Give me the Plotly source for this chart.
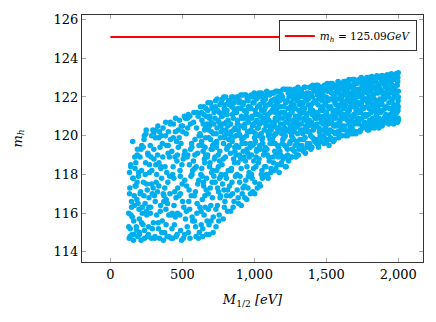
import plotly.graph_objects as go

# Scan points: gaugino mass M_1/2 and Higgs mass m_h
m_half = [
    128, 131, 135, 138, 142, 147, 151, 155, 158, 162, 166, 170, 133, 144, 160, 172,
    177, 180, 184, 188, 191, 195, 199, 203, 206, 210, 214, 218, 222, 186, 201, 216,
    227, 230, 234, 238, 241, 245, 249, 253, 256, 260, 264, 268, 272, 236, 251, 266,
    277, 280, 284, 288, 291, 295, 299, 303, 306, 310, 314, 318, 322, 286, 301, 316,
    327, 330, 334, 338, 341, 345, 349, 353, 356, 360, 364, 368, 372, 336, 351, 366,
    377, 380, 384, 388, 391, 395, 399, 403, 406, 410, 414, 418, 422, 386, 401, 416,
    427, 430, 434, 438, 441, 445, 449, 453, 456, 460, 464, 468, 472, 436, 451, 466,
    477, 480, 484, 488, 491, 495, 499, 503, 506, 510, 514, 518, 522, 486, 501, 516,
    527, 530, 534, 538, 541, 545, 549, 553, 556, 560, 564, 568, 572, 536, 551, 566,
    577, 580, 584, 588, 591, 595, 599, 603, 606, 610, 614, 618, 622, 586, 601, 616,
    626, 628, 631, 634, 636, 639, 641, 644, 646, 649, 651, 654, 656, 659, 661, 664, 666, 669, 671, 673, 638, 658,
    676, 678, 681, 684, 686, 689, 691, 694, 696, 699, 701, 704, 706, 709, 711, 714, 716, 719, 721, 723, 688, 708,
    726, 728, 731, 734, 736, 739, 741, 744, 746, 749, 751, 754, 756, 759, 761, 764, 766, 769, 771, 773, 738, 758,
    776, 778, 781, 784, 786, 789, 791, 794, 796, 799, 801, 804, 806, 809, 811, 814, 816, 819, 821, 823, 788, 808,
    826, 828, 831, 834, 836, 839, 841, 844, 846, 849, 851, 854, 856, 859, 861, 864, 866, 869, 871, 873, 838, 858,
    876, 878, 881, 884, 886, 889, 891, 894, 896, 899, 901, 904, 906, 909, 911, 914, 916, 919, 921, 923, 888, 908,
    926, 928, 931, 934, 936, 939, 941, 944, 946, 949, 951, 954, 956, 959, 961, 964, 966, 969, 971, 973, 938, 958,
    976, 978, 981, 984, 986, 989, 991, 994, 996, 999, 1001, 1004, 1006, 1009, 1011, 1014, 1016, 1019, 1021, 1023, 988, 1008,
    1026, 1028, 1031, 1034, 1036, 1039, 1041, 1044, 1046, 1049, 1051, 1054, 1056, 1059, 1061, 1064, 1066, 1069, 1071, 1073, 1038, 1058,
    1076, 1078, 1081, 1084, 1086, 1089, 1091, 1094, 1096, 1099, 1101, 1104, 1106, 1109, 1111, 1114, 1116, 1119, 1121, 1123, 1088, 1108,
    1126, 1128, 1131, 1134, 1136, 1139, 1141, 1144, 1146, 1149, 1151, 1154, 1156, 1159, 1161, 1164, 1166, 1169, 1171, 1173, 1138, 1158,
    1176, 1178, 1181, 1184, 1186, 1189, 1191, 1194, 1196, 1199, 1201, 1204, 1206, 1209, 1211, 1214, 1216, 1219, 1221, 1223, 1188, 1208,
    1226, 1228, 1231, 1234, 1236, 1239, 1241, 1244, 1246, 1249, 1251, 1254, 1256, 1259, 1261, 1264, 1266, 1269, 1271, 1273, 1238, 1258,
    1276, 1278, 1281, 1284, 1286, 1289, 1291, 1294, 1296, 1299, 1301, 1304, 1306, 1309, 1311, 1314, 1316, 1319, 1321, 1323, 1288, 1308,
    1326, 1329, 1332, 1334, 1337, 1340, 1343, 1346, 1349, 1352, 1355, 1357, 1360, 1363, 1366, 1369, 1371, 1373,
    1376, 1379, 1382, 1384, 1387, 1390, 1393, 1396, 1399, 1402, 1405, 1407, 1410, 1413, 1416, 1419, 1421, 1423,
    1426, 1429, 1432, 1434, 1437, 1440, 1443, 1446, 1449, 1452, 1455, 1457, 1460, 1463, 1466, 1469, 1471, 1473,
    1476, 1479, 1482, 1484, 1487, 1490, 1493, 1496, 1499, 1502, 1505, 1507, 1510, 1513, 1516, 1519, 1521, 1523,
    1526, 1529, 1532, 1534, 1537, 1540, 1543, 1546, 1549, 1552, 1555, 1557, 1560, 1563, 1566, 1569, 1571, 1573,
    1576, 1579, 1582, 1584, 1587, 1590, 1593, 1596, 1599, 1602, 1605, 1607, 1610, 1613, 1616, 1619, 1621, 1623,
    1626, 1629, 1632, 1634, 1637, 1640, 1643, 1646, 1649, 1652, 1655, 1657, 1660, 1663, 1666, 1669, 1671, 1673,
    1676, 1679, 1682, 1684, 1687, 1690, 1693, 1696, 1699, 1702, 1705, 1707, 1710, 1713, 1716, 1719, 1721, 1723,
    1726, 1729, 1732, 1734, 1737, 1740, 1743, 1746, 1749, 1752, 1755, 1757, 1760, 1763, 1766, 1769, 1771, 1773,
    1776, 1779, 1782, 1784, 1787, 1790, 1793, 1796, 1799, 1802, 1805, 1807, 1810, 1813, 1816, 1819, 1821, 1823,
    1826, 1829, 1832, 1834, 1837, 1840, 1843, 1846, 1849, 1852, 1855, 1857, 1860, 1863, 1866, 1869, 1871, 1873,
    1876, 1879, 1882, 1884, 1887, 1890, 1893, 1896, 1899, 1902, 1905, 1907, 1910, 1913, 1916, 1919, 1921, 1923,
    1926, 1929, 1932, 1934, 1937, 1940, 1943, 1946, 1949, 1952, 1955, 1957, 1960, 1963, 1966, 1969, 1971, 1973,
    1976, 1979, 1982, 1985, 1988, 1990, 1993, 1995, 1997, 1999, 2000, 2000, 2000, 2000,
    # second pass
    128, 133, 137, 142, 147, 152, 157, 162, 167, 172,
    178, 183, 187, 192, 197, 202, 207, 212, 217, 222,
    228, 233, 237, 242, 247, 252, 257, 262, 267, 272,
    278, 283, 287, 292, 297, 302, 307, 312, 317, 322,
    328, 333, 337, 342, 347, 352, 357, 362, 367, 372,
    378, 383, 387, 392, 397, 402, 407, 412, 417, 422,
    428, 433, 437, 442, 447, 452, 457, 462, 467, 472,
    478, 483, 487, 492, 497, 502, 507, 512, 517, 522,
    528, 533, 537, 542, 547, 552, 557, 562, 567, 572,
    578, 583, 587, 592, 597, 602, 607, 612, 617, 622,
    627, 630, 633, 635, 638, 642, 645, 648, 650, 653, 657, 660, 662, 665, 668, 672,
    677, 680, 683, 685, 688, 692, 695, 698, 700, 703, 707, 710, 712, 715, 718, 722,
    727, 730, 733, 735, 738, 742, 745, 748, 750, 753, 757, 760, 762, 765, 768, 772,
    777, 780, 783, 785, 788, 792, 795, 798, 800, 803, 807, 810, 812, 815, 818, 822,
    827, 830, 833, 835, 838, 842, 845, 848, 850, 853, 857, 860, 862, 865, 868, 872,
    877, 880, 883, 885, 888, 892, 895, 898, 900, 903, 907, 910, 912, 915, 918, 922,
    927, 930, 933, 935, 938, 942, 945, 948, 950, 953, 957, 960, 962, 965, 968, 972,
    977, 980, 983, 985, 988, 992, 995, 998, 1000, 1003, 1007, 1010, 1012, 1015, 1018, 1022,
    1027, 1030, 1033, 1035, 1038, 1042, 1045, 1048, 1050, 1053, 1057, 1060, 1062, 1065, 1068, 1072,
    1077, 1080, 1083, 1085, 1088, 1092, 1095, 1098, 1100, 1103, 1107, 1110, 1112, 1115, 1118, 1122,
    1127, 1130, 1133, 1135, 1138, 1142, 1145, 1148, 1150, 1153, 1157, 1160, 1162, 1165, 1168, 1172,
    1177, 1180, 1183, 1185, 1188, 1192, 1195, 1198, 1200, 1203, 1207, 1210, 1212, 1215, 1218, 1222,
    1227, 1230, 1233, 1235, 1238, 1242, 1245, 1248, 1250, 1253, 1257, 1260, 1262, 1265, 1268, 1272,
    1277, 1280, 1283, 1285, 1288, 1292, 1295, 1298, 1300, 1303, 1307, 1310, 1312, 1315, 1318, 1322,
    1327, 1330, 1333, 1335, 1338, 1342, 1345, 1348, 1350, 1353, 1357, 1360, 1362, 1365, 1368, 1372,
    1377, 1380, 1383, 1385, 1388, 1392, 1395, 1398, 1400, 1403, 1407, 1410, 1412, 1415, 1418, 1422,
    1427, 1430, 1433, 1435, 1438, 1442, 1445, 1448, 1450, 1453, 1457, 1460, 1462, 1465, 1468, 1472,
    1477, 1480, 1483, 1485, 1488, 1492, 1495, 1498, 1500, 1503, 1507, 1510, 1512, 1515, 1518, 1522,
    1527, 1530, 1533, 1535, 1538, 1542, 1545, 1548, 1550, 1553, 1557, 1560, 1562, 1565, 1568, 1572,
    1577, 1580, 1583, 1585, 1588, 1592, 1595, 1598, 1600, 1603, 1607, 1610, 1612, 1615, 1618, 1622,
    1627, 1630, 1633, 1635, 1638, 1642, 1645, 1648, 1650, 1653, 1657, 1660, 1662, 1665, 1668, 1672,
    1677, 1680, 1683, 1685, 1688, 1692, 1695, 1698, 1700, 1703, 1707, 1710, 1712, 1715, 1718, 1722,
    1727, 1730, 1733, 1735, 1738, 1742, 1745, 1748, 1750, 1753, 1757, 1760, 1762, 1765, 1768, 1772,
    1777, 1780, 1783, 1785, 1788, 1792, 1795, 1798, 1800, 1803, 1807, 1810, 1812, 1815, 1818, 1822,
    1827, 1830, 1833, 1835, 1838, 1842, 1845, 1848, 1850, 1853, 1857, 1860, 1862, 1865, 1868, 1872,
    1877, 1880, 1883, 1885, 1888, 1892, 1895, 1898, 1900, 1903, 1907, 1910, 1912, 1915, 1918, 1922,
    1927, 1930, 1933, 1935, 1938, 1942, 1945, 1948, 1950, 1953, 1957, 1960, 1962, 1965, 1968, 1972,
    1977, 1981, 1984, 1987, 1991, 1994, 1996, 1998, 2000, 2000,
]

m_h = [
    116.0, 114.7, 117.3, 115.2, 118.4, 116.6, 114.9, 119.7, 117.8, 115.6, 116.9, 118.9, 118.1, 115.9, 114.6, 117.4,
    118.6, 115.3, 116.7, 119.3, 114.8, 117.9, 116.2, 115.0, 118.9, 117.1, 114.6, 119.5, 116.0, 117.6, 115.7, 118.2,
    115.4, 117.6, 119.8, 114.7, 116.5, 118.6, 120.3, 115.9, 117.2, 119.1, 114.9, 116.8, 118.1, 120.0, 116.1, 115.3,
    119.5, 116.3, 114.7, 118.2, 117.0, 120.3, 115.5, 118.8, 116.9, 114.8, 119.9, 117.6, 115.9, 117.5, 120.1, 118.5,
    117.1, 120.5, 115.2, 118.6, 114.7, 119.4, 116.4, 120.0, 117.8, 115.6, 118.9, 114.6, 116.9, 119.9, 118.3, 120.4,
    115.0, 118.4, 120.7, 116.7, 119.5, 114.8, 117.6, 120.2, 115.9, 118.9, 117.0, 119.8, 114.7, 116.2, 119.1, 120.6,
    119.2, 116.0, 114.7, 120.6, 117.8, 115.4, 118.9, 120.9, 116.8, 119.7, 114.9, 117.3, 120.3, 118.4, 115.8, 119.0,
    116.9, 120.8, 118.2, 115.1, 119.6, 114.6, 117.5, 120.2, 118.8, 116.3, 121.0, 119.2, 115.7, 117.9, 120.5, 114.9,
    120.1, 117.4, 115.3, 119.0, 121.1, 116.6, 118.5, 114.7, 120.6, 117.9, 119.6, 115.8, 118.2, 120.9, 116.2, 119.4,
    118.7, 121.2, 115.6, 119.8, 117.1, 114.8, 120.4, 116.5, 119.1, 121.0, 117.7, 115.0, 120.1, 118.3, 116.0, 119.5,
    121.5, 118.0, 115.4, 119.7, 120.8, 116.7, 114.8, 119.2, 117.6, 121.1, 115.9, 120.3, 118.6, 116.3, 119.9, 121.4, 117.2, 114.9, 120.6, 118.9, 117.9, 119.4,
    119.0, 121.7, 116.2, 120.3, 114.9, 118.4, 121.0, 117.3, 119.8, 115.6, 120.7, 118.1, 121.5, 116.8, 119.5, 115.0, 120.1, 117.9, 121.2, 118.8, 120.5, 119.3,
    120.9, 117.6, 121.8, 115.3, 119.4, 118.2, 120.4, 116.4, 121.3, 119.0, 117.1, 120.7, 115.9, 118.7, 121.6, 119.9, 116.9, 120.2, 118.0, 121.0, 119.6, 117.8,
    118.5, 121.9, 120.3, 115.7, 119.6, 117.2, 121.4, 120.0, 116.6, 118.9, 122.0, 120.7, 117.8, 119.3, 121.1, 116.1, 120.5, 118.2, 121.7, 119.8, 121.2, 120.1,
    120.6, 117.4, 121.8, 119.1, 116.1, 120.2, 118.3, 121.5, 119.7, 117.0, 122.0, 120.9, 118.8, 116.6, 121.2, 119.4, 120.4, 117.9, 121.9, 119.0, 120.0, 121.4,
    119.5, 122.0, 117.2, 120.8, 118.6, 121.4, 116.5, 120.1, 119.0, 121.8, 117.9, 120.5, 122.1, 118.3, 121.0, 119.8, 117.0, 120.9, 121.6, 119.2, 120.3, 118.8,
    121.7, 118.9, 120.4, 116.8, 122.1, 119.6, 117.7, 121.2, 120.0, 118.4, 121.9, 119.1, 117.3, 120.7, 121.4, 118.1, 122.0, 120.2, 119.4, 117.0, 120.9, 121.5,
    120.3, 122.1, 118.0, 121.0, 119.5, 117.1, 121.7, 120.6, 118.7, 122.2, 119.9, 117.6, 121.3, 120.1, 118.4, 121.9, 119.2, 120.8, 117.3, 121.5, 120.5, 119.7,
    121.1, 118.6, 122.2, 120.0, 117.5, 121.6, 119.3, 120.7, 122.1, 118.0, 121.3, 119.8, 117.8, 120.9, 122.0, 119.0, 121.7, 120.3, 118.4, 121.4, 120.6, 119.6,
    119.4, 121.9, 120.5, 118.0, 122.3, 121.0, 119.0, 120.2, 117.8, 121.6, 120.8, 118.7, 122.1, 119.8, 121.2, 120.4, 118.3, 121.8, 119.6, 122.2, 120.9, 120.1,
    120.7, 122.2, 118.9, 121.5, 120.0, 118.2, 121.9, 119.6, 120.9, 122.3, 119.1, 121.3, 120.4, 118.5, 121.7, 120.2, 122.0, 119.4, 121.1, 118.1, 120.6, 121.4,
    121.8, 119.2, 120.6, 122.3, 118.5, 121.2, 120.1, 119.6, 122.0, 120.9, 118.8, 121.5, 119.9, 122.4, 120.4, 121.0, 118.4, 121.7, 120.7, 119.4, 122.1, 120.2,
    120.3, 122.4, 119.0, 121.4, 120.8, 118.7, 122.0, 121.1, 119.6, 120.5, 122.3, 118.9, 121.7, 120.0, 121.3, 119.3, 122.2, 120.6, 121.9, 119.8, 120.9, 121.5,
    121.6, 119.2, 122.4, 120.4, 121.0, 118.9, 122.1, 120.8, 119.7, 121.9, 120.1, 122.5, 119.0, 121.3, 120.6, 122.0, 119.5, 121.1, 120.3, 121.7, 122.3, 120.9,
    120.6, 122.4, 119.3, 121.5, 120.1, 122.0, 119.8, 121.2, 120.9, 122.5, 119.1, 121.8, 120.4, 121.0, 122.2, 119.6, 120.7, 121.6,
    121.9, 119.5, 120.8, 122.5, 120.2, 121.4, 119.3, 122.1, 120.6, 121.1, 122.6, 119.9, 121.7, 120.4, 122.3, 121.0, 119.7, 120.9,
    120.5, 122.6, 121.2, 119.6, 122.1, 120.9, 121.6, 119.4, 122.4, 120.2, 121.0, 122.0, 119.9, 121.4, 120.7, 122.5, 121.8, 120.3,
    122.2, 120.0, 121.3, 119.6, 122.6, 120.8, 121.7, 120.4, 122.0, 119.8, 121.1, 122.7, 120.6, 121.5, 122.4, 119.5, 120.9, 121.9,
    120.3, 122.7, 121.5, 119.8, 122.2, 121.0, 120.6, 122.5, 119.7, 121.8, 120.9, 122.0, 121.3, 120.1, 122.6, 121.6, 120.5, 122.3,
    121.9, 120.2, 122.8, 121.2, 119.9, 122.4, 120.7, 121.6, 122.1, 120.4, 122.7, 121.0, 120.0, 121.8, 122.5, 120.9, 121.4, 122.2,
    120.5, 122.8, 121.6, 120.0, 122.3, 121.1, 122.6, 120.8, 121.9, 120.2, 122.0, 122.9, 121.3, 120.6, 122.5, 121.7, 120.1, 121.0,
    122.1, 120.4, 122.9, 121.5, 120.1, 122.5, 121.0, 121.8, 122.7, 120.7, 122.2, 121.3, 120.2, 122.8, 121.7, 120.9, 122.4, 121.2,
    120.6, 122.9, 121.6, 120.2, 122.4, 121.2, 123.0, 120.9, 122.1, 121.8, 120.4, 122.7, 121.4, 122.5, 120.7, 121.9, 122.8, 121.1,
    122.3, 120.5, 123.0, 121.5, 120.3, 122.6, 121.1, 122.0, 122.9, 120.8, 121.8, 122.5, 120.4, 121.3, 123.05, 122.1, 121.6, 120.9,
    120.7, 123.0, 121.9, 120.4, 122.5, 121.3, 122.8, 121.0, 122.2, 123.1, 120.6, 121.6, 122.6, 121.2, 120.9, 122.4, 123.0, 121.8,
    122.4, 120.6, 123.1, 121.7, 120.5, 122.8, 121.3, 122.1, 123.0, 120.9, 121.9, 122.6, 121.0, 122.9, 121.5, 120.7, 122.3, 123.15,
    120.8, 123.1, 122.0, 120.6, 122.7, 121.4, 122.9, 121.1, 122.4, 123.2, 120.9, 121.8, 122.6, 121.3, 123.0, 121.6, 122.2, 120.7,
    121.5, 122.9, 120.8, 123.2, 122.1, 121.2, 122.6, 120.7, 123.0, 121.8, 122.3, 120.9, 123.25, 121.5,
    # second pass
    115.3, 117.0, 114.8, 118.5, 116.3, 115.8, 117.8, 114.9, 116.4, 118.3,
    117.4, 115.1, 119.0, 116.5, 118.1, 114.9, 117.0, 119.3, 115.5, 116.3,
    119.4, 116.9, 115.1, 118.0, 120.1, 117.5, 114.8, 119.0, 116.3, 118.5,
    116.0, 118.9, 120.0, 115.2, 117.3, 119.3, 114.7, 116.6, 120.3, 118.0,
    119.0, 115.5, 117.4, 120.2, 116.1, 118.4, 115.0, 119.6, 117.0, 116.6,
    117.3, 120.0, 115.4, 118.1, 116.5, 119.5, 114.8, 117.9, 120.7, 115.9,
    115.2, 118.0, 119.9, 116.4, 117.1, 120.2, 114.8, 118.7, 116.0, 119.4,
    119.9, 115.9, 117.0, 120.5, 118.5, 116.6, 114.7, 119.0, 117.7, 120.9,
    116.1, 118.9, 120.4, 115.0, 117.2, 121.0, 119.3, 116.9, 118.0, 115.6,
    120.7, 116.9, 119.0, 115.3, 118.4, 121.2, 117.5, 114.7, 120.0, 116.3,
    120.0, 116.1, 121.2, 118.3, 119.5, 115.2, 120.6, 117.4, 121.5, 118.8, 116.9, 120.4, 119.0, 121.0, 117.8, 115.6,
    121.3, 117.0, 119.9, 115.4, 120.9, 118.6, 121.7, 116.4, 119.3, 120.2, 117.6, 121.4, 118.2, 115.8, 120.6, 119.6,
    118.9, 121.5, 116.2, 120.1, 119.7, 121.9, 117.3, 120.8, 118.4, 115.6, 121.2, 119.2, 116.8, 120.5, 117.9, 121.7,
    121.0, 117.5, 120.6, 118.8, 122.0, 116.3, 119.9, 121.6, 118.0, 120.3, 116.9, 121.3, 119.4, 117.2, 120.8, 121.8,
    119.5, 121.6, 116.9, 120.6, 118.2, 122.0, 117.6, 121.1, 119.9, 116.3, 120.3, 121.7, 118.6, 119.2, 121.3, 120.0,
    121.2, 118.0, 120.6, 122.0, 116.8, 119.4, 121.7, 117.6, 120.0, 118.9, 121.4, 116.4, 120.9, 119.6, 122.1, 117.3,
    119.9, 121.3, 117.4, 120.6, 118.7, 122.1, 121.0, 116.7, 119.3, 120.2, 121.8, 117.9, 120.9, 118.9, 121.5, 119.6,
    121.4, 119.0, 120.9, 117.8, 122.0, 120.2, 118.3, 121.7, 119.6, 117.0, 121.1, 120.7, 118.9, 122.1, 119.3, 120.4,
    120.4, 122.0, 118.8, 121.5, 119.5, 117.4, 121.0, 120.1, 122.2, 118.2, 119.9, 121.8, 120.7, 117.9, 121.2, 119.2,
    121.5, 118.4, 120.7, 122.1, 119.3, 117.9, 121.1, 120.0, 118.9, 122.2, 120.5, 119.6, 121.7, 118.1, 120.3, 121.3,
    119.8, 121.8, 118.6, 120.5, 122.2, 119.2, 121.2, 120.1, 118.3, 121.6, 120.8, 122.3, 119.5, 121.0, 118.9, 120.4,
    120.9, 122.2, 119.0, 121.5, 118.6, 120.3, 121.9, 119.8, 122.4, 120.6, 118.9, 121.2, 119.5, 120.0, 121.7, 118.4,
    121.8, 119.3, 120.7, 122.2, 118.8, 121.0, 120.2, 122.4, 119.7, 121.5, 120.4, 118.9, 121.2, 119.9, 122.0, 120.8,
    120.2, 122.0, 119.5, 121.4, 120.7, 122.4, 119.0, 121.8, 120.5, 121.0, 122.3, 119.3, 120.9, 121.6, 119.8, 122.1,
    121.3, 119.5, 122.2, 120.3, 121.7, 119.2, 120.8, 122.5, 121.4, 119.9, 120.5, 122.1, 121.1, 119.4, 120.2, 121.9,
    120.5, 122.2, 121.2, 119.6, 122.5, 120.0, 121.6, 120.7, 119.4, 122.0, 121.3, 120.3, 122.4, 119.8, 121.0, 121.8,
    121.7, 119.8, 122.3, 120.6, 121.1, 122.6, 119.5, 120.4, 121.9, 122.2, 120.0, 121.3, 119.7, 122.5, 120.9, 121.5,
    120.6, 122.4, 121.0, 119.9, 122.0, 121.6, 120.2, 122.6, 121.2, 119.7, 120.7, 122.3, 121.8, 120.1, 122.5, 121.4,
    121.4, 119.9, 122.4, 120.7, 121.9, 122.7, 120.2, 121.2, 122.1, 120.5, 119.8, 121.7, 122.5, 120.9, 121.0, 122.2,
    120.6, 122.5, 121.4, 120.1, 122.2, 121.9, 120.8, 122.7, 121.2, 120.3, 122.0, 121.6, 120.5, 122.4, 121.1, 122.8,
    122.1, 120.3, 121.4, 122.7, 120.9, 121.8, 122.4, 120.0, 121.2, 122.8, 120.6, 121.9, 122.2, 120.4, 121.5, 122.6,
    120.8, 122.6, 121.9, 120.3, 122.3, 121.1, 122.9, 120.6, 121.6, 122.1, 120.1, 121.4, 122.7, 120.9, 122.0, 121.7,
    122.2, 120.8, 121.3, 122.8, 120.3, 122.0, 121.7, 122.6, 120.5, 121.5, 122.9, 121.0, 122.3, 120.6, 121.9, 122.5,
    121.0, 122.8, 122.2, 120.6, 121.7, 122.5, 120.3, 121.4, 123.0, 121.9, 120.7, 122.3, 121.2, 122.7, 120.5, 121.6,
    122.1, 120.9, 122.9, 121.5, 120.5, 122.4, 121.8, 123.0, 121.1, 122.7, 120.8, 121.4, 122.2, 120.4, 122.6, 121.9,
    121.2, 122.9, 120.8, 122.3, 121.6, 123.1, 120.6, 122.0, 121.9, 122.7, 121.4, 120.9, 122.5, 121.1, 123.0, 122.2,
    122.5, 121.0, 123.0, 121.7, 120.7, 122.2, 121.4, 123.15, 122.8, 120.9, 121.9, 122.4, 121.2, 122.9, 120.6, 122.1,
    122.4, 121.1, 122.0, 120.9, 123.1, 121.6, 122.8, 121.3, 122.0, 120.8,
]

# Reference Higgs mass line
ref_x = [0, 2000]
ref_mh = 125.09
ref_label = "<i>m<sub>h</sub></i> = 125.09<i>GeV</i>"

x_ticks = [0, 500, 1000, 1500, 2000]
x_ticktext = ["0", "500", "1,000", "1,500", "2,000"]
y_ticks = [114, 116, 118, 120, 122, 124, 126]

FONT = "DejaVu Serif"

fig = go.Figure()
fig.add_trace(go.Scatter(
    x=m_half, y=m_h, mode="markers",
    marker=dict(color="#00AEEF", size=5.5, line=dict(width=0)),
    showlegend=False, hoverinfo="skip",
))
fig.add_trace(go.Scatter(
    x=ref_x, y=[ref_mh] * len(ref_x), mode="lines",
    line=dict(color="#FF0000", width=2),
    name=ref_label, showlegend=True,
))

axis_common = dict(
    showgrid=False, zeroline=False, showline=True, linecolor="#333333", linewidth=1,
    mirror="allticks", ticks="inside", ticklen=4, tickcolor="#aaaaaa", tickwidth=1,
    tickfont=dict(family=FONT, size=13, color="#000000"), automargin=False,
)

fig.update_layout(
    width=436, height=322,
    margin=dict(l=82, r=13, t=15, b=60),
    paper_bgcolor="white", plot_bgcolor="white",
    font=dict(family=FONT, color="#000000"),
    xaxis=dict(
        range=[-197, 2172], tickvals=x_ticks, ticktext=x_ticktext,
        title=dict(text="<i>M</i><sub>1/2</sub> <i>[eV]</i>", font=dict(family=FONT, size=13), standoff=14),
        **axis_common,
    ),
    yaxis=dict(
        range=[113.48, 126.23], tickvals=y_ticks,
        title=dict(text="<i>m<sub>h</sub></i>", font=dict(family=FONT, size=13), standoff=28),
        **axis_common,
    ),
    legend=dict(
        x=0.982, y=0.978, xanchor="right", yanchor="top",
        bgcolor="white", bordercolor="#333333", borderwidth=1,
        font=dict(family=FONT, size=10.5), itemwidth=30,
        tracegroupgap=0,
    ),
)

fig.write_html(
    "out.html",
    config={"displayModeBar": False},
    post_script="document.body.style.margin='0px';",
)
